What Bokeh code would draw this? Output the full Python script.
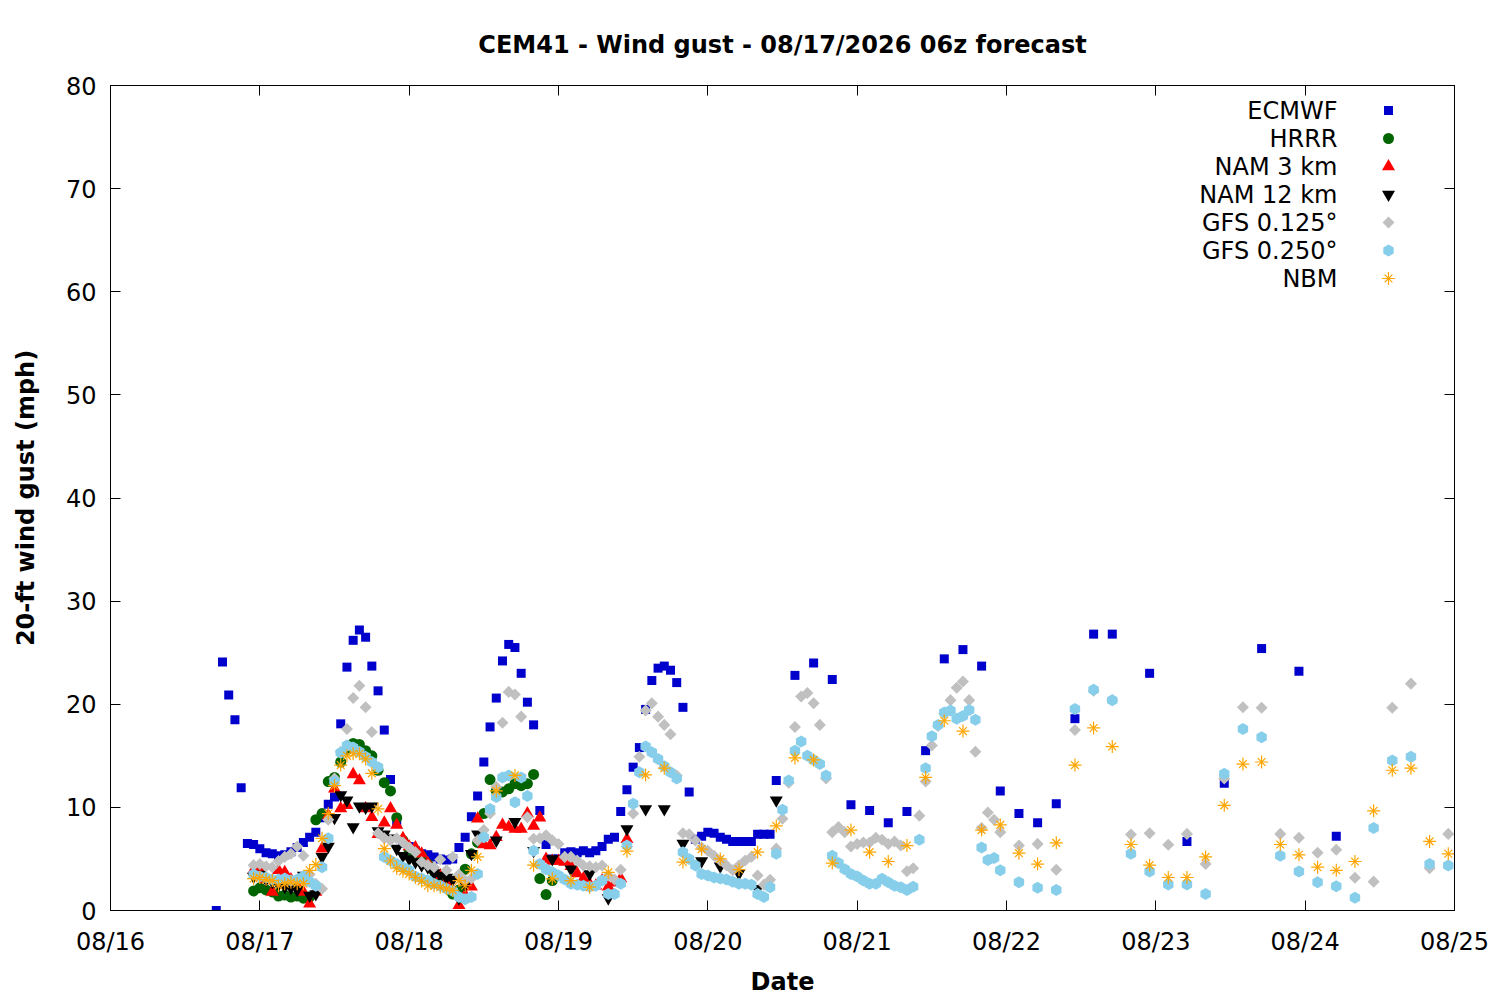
from datetime import datetime, timedelta
import numpy as np
from bokeh.plotting import figure
from bokeh.models import (Range1d, LinearAxis, DatetimeAxis, FixedTicker,
                          DatetimeTickFormatter, CustomJSTickFormatter, Label,
                          ColumnDataSource)
from bokeh.embed import file_html
from bokeh.resources import INLINE

# ---------------------------------------------------------------- data
BASE = datetime(2026, 8, 16)           # hours below are counted from 08/16 00:00 (local)
date_labels = ["08/16", "08/17", "08/18", "08/19", "08/20", "08/21", "08/22", "08/23", "08/24", "08/25"]
y_ticks = [0, 10, 20, 30, 40, 50, 60, 70, 80]

# forecast step schedules (hours after 08/16 00:00)
ecmwf_hours = list(range(17, 108)) + list(range(110, 162, 3)) + list(range(167, 198, 6))
hrrr_hours = list(range(23, 72))
nam3_hours = list(range(23, 84))
nam12_hours = list(range(23, 60)) + list(range(62, 108, 3))
gfs_hours = list(range(23, 144)) + list(range(146, 216, 3))
nbm_hours = list(range(23, 60)) + list(range(62, 216, 3))

ecmwf = [0.0, 24.1, 20.9, 18.5, 11.9, 6.5, 6.4, 6.0, 5.6, 5.5,
         5.3, 5.4, 5.7, 6.1, 6.6, 7.1, 7.6, 9.0, 10.3, 11.0,
         18.1, 23.6, 26.2, 27.2, 26.5, 23.7, 21.3, 17.5, 12.7, 8.5,
         6.5, 6.2, 5.8, 5.5, 5.4, 5.2, 5.0, 4.9, 5.0, 6.1,
         7.1, 9.1, 11.1, 14.4, 17.8, 20.6, 24.2, 25.8, 25.5, 23.0,
         20.2, 18.0, 9.7, 6.4, 5.0, 5.0, 5.6, 5.7, 5.6, 5.8,
         5.6, 5.8, 6.2, 6.9, 7.1, 9.6, 11.7, 13.9, 15.8, 19.5,
         22.3, 23.5, 23.7, 23.3, 22.1, 19.7, 11.5, 6.9, 7.2, 7.6,
         7.5, 7.1, 6.9, 6.7, 6.7, 6.7, 6.7, 7.4, 7.4, 7.4,
         12.6,
         22.8, 24.0, 22.4, 10.25, 9.7, 8.5, 9.6, 15.5, 24.4, 25.3,
         23.7, 11.6, 9.4, 8.5, 10.35, 18.6, 26.8, 26.8,
         23.0, 6.7, 12.35, 25.4, 23.2, 7.2]

hrrr = [1.9, 2.2, 2.0, 1.8, 1.4, 1.5, 1.3, 1.4, 1.2, 1.3,
        8.8, 9.4, 12.5, 12.9, 14.4, 15.6, 16.2, 16.1, 15.5, 15.0,
        13.6, 12.4, 11.6, 9.0, 6.8, 5.8, 5.4, 5.3, 4.5, 3.8,
        2.8, 2.2, 1.6, 2.0, 4.0, 5.5, 6.6, 9.4, 12.7, 11.6,
        11.5, 11.8, 12.3, 12.1, 12.3, 13.2, 3.1, 1.55, 2.9]

nam3 = [3.9, 3.9, 3.0, 1.8, 3.9, 3.7, 3.0, 2.4, 1.8, 0.65,
        1.8, 6.0, 9.2, 11.8, 9.9, 10.2, 13.2, 12.6, 9.9, 9.05,
        7.4, 8.5, 9.9, 8.3, 7.0, 6.2, 6.1, 5.5, 4.6, 4.0,
        3.4, 2.8, 2.0, 0.5, 1.5, 2.3, 8.9, 6.4, 6.3, 7.1,
        8.3, 8.1, 7.9, 7.9, 9.4, 8.2, 9.0, 5.0, 4.8, 4.8,
        4.7, 4.3, 3.6, 3.1, 2.6, 2.4, 2.9, 2.3, 2.7, 3.1,
        6.9]

nam12 = [3.3, 3.5, 3.0, 2.8, 2.5, 2.3, 2.2, 2.0, 3.4, 1.45,
         1.6, 5.2, 6.2, 9.0, 11.2, 10.7, 8.1, 10.1, 10.0, 10.1,
         7.7, 7.4, 7.0, 6.0, 5.3, 5.0, 4.7, 4.4, 4.2, 3.6,
         3.4, 3.2, 3.0, 1.2, 2.5, 5.5, 7.4,
         6.8, 8.6, 5.8, 5.0, 4.0, 3.55, 1.2, 7.9, 9.85, 9.85,
         6.5, 4.8, 4.3, 3.6, 2.1, 10.7]

gfs125 = [4.4, 4.5, 4.3, 4.2, 4.8, 5.2, 5.5, 6.2, 5.3, 3.5,
          2.6, 2.1, 8.8, 12.8, 15.4, 17.6, 20.6, 21.8, 19.7, 17.3,
          7.5, 7.0, 6.8, 7.0, 6.6, 6.1, 5.65, 4.7, 4.4, 4.2,
          4.95, 3.9, 5.2, 3.5, 2.9, 3.1, 6.8, 7.8, 9.4, 12.0,
          18.2, 21.2, 20.95, 18.8, 9.05, 6.95, 7.0, 7.3, 6.8, 6.45,
          5.2, 5.2, 4.85, 4.36, 4.3, 4.2, 4.36, 3.4, 3.0, 3.95,
          6.2, 9.4, 14.9, 19.4, 20.1, 18.8, 18.0, 17.1, 13.1, 7.5,
          7.4, 6.8, 6.1, 5.8, 5.3, 4.85, 4.36, 3.9, 4.36, 4.85,
          5.2, 3.4, 2.5, 2.97, 6.0, 8.9, 12.4, 17.8, 20.75, 21.1,
          20.1, 18.0, 12.8, 7.6, 8.1, 7.6, 6.2, 6.45, 6.6, 6.6,
          7.05, 6.85, 6.45, 6.7, 6.3, 3.8, 4.1, 9.2, 12.5, 16.0,
          17.9, 19.1, 20.4, 21.6, 22.2, 20.4, 15.4, 8.0, 9.5, 8.8,
          7.6,
          6.3, 6.46, 3.95, 17.5, 21.3, 20.4, 7.37, 7.5, 6.37, 7.43,
          4.5, 12.8, 19.7, 19.65, 7.43, 7.05, 5.6, 5.88, 3.17, 2.8,
          19.65, 22.0, 4.1, 7.43]

gfs250 = [3.5, 3.3, 3.2, 3.0, 3.0, 3.1, 2.9, 3.0, 3.3, 2.8,
          2.4, 4.2, 7.0, 12.5, 15.3, 16.0, 15.8, 15.4, 14.9, 14.4,
          13.9, 5.2, 4.85, 4.5, 4.2, 3.9, 3.3, 3.1, 2.9, 2.6,
          2.4, 2.1, 1.9, 1.3, 1.1, 1.3, 3.55, 7.1, 9.85, 11.0,
          12.9, 13.1, 10.5, 12.9, 11.1, 5.8, 4.5, 4.0, 3.7, 3.4,
          3.0, 2.6, 2.5, 2.4, 2.3, 2.4, 2.9, 1.6, 1.6, 2.6,
          6.3, 10.35, 13.4, 15.9, 15.35, 14.7, 14.0, 13.4, 12.8, 5.65,
          5.0, 4.36, 3.55, 3.4, 3.2, 3.1, 3.0, 2.8, 2.6, 2.6,
          2.5, 1.6, 1.3, 2.25, 5.5, 9.76, 12.6, 15.5, 16.4, 15.0,
          14.6, 14.2, 13.1, 5.3, 4.6, 4.0, 3.55, 3.3, 2.9, 2.6,
          2.6, 3.07, 2.75, 2.4, 2.26, 2.0, 2.3, 6.85, 13.8, 16.9,
          18.0, 19.2, 19.4, 18.6, 18.85, 19.45, 18.5, 6.1, 4.9, 5.1,
          3.9,
          2.75, 2.2, 2.0, 19.55, 21.4, 20.4, 5.5, 3.78, 2.52, 2.52,
          1.6, 13.25, 17.6, 16.8, 5.3, 3.78, 2.75, 2.36, 1.23, 8.0,
          14.55, 14.9, 4.5, 4.36]

nbm = [3.1, 3.2, 3.0, 2.9, 2.4, 2.6, 2.75, 2.6, 2.6, 3.9,
       4.45, 7.0, 9.4, 12.1, 14.1, 15.0, 15.2, 15.2, 14.7, 13.3,
       9.85, 6.0, 4.8, 4.1, 3.8, 3.55, 3.2, 2.85, 2.4, 2.4,
       2.25, 2.1, 1.95, 2.9, 2.4, 3.9, 5.2,
       11.6, 13.1, 4.4, 3.07, 2.9, 2.26, 3.7, 5.75, 13.15, 13.8,
       4.7, 5.95, 5.0, 3.97, 5.66, 8.2, 14.8, 14.6, 4.6, 7.8,
       5.66, 4.75, 6.3, 12.9, 18.4, 17.4, 7.8, 8.3, 5.56, 4.5,
       6.56, 14.1, 17.7, 15.9, 6.4, 4.4, 3.2, 3.2, 5.2, 10.2,
       14.2, 14.4, 6.4, 5.4, 4.2, 3.9, 4.75, 9.67, 13.6, 13.8,
       6.7, 5.5]

series_names = ["ECMWF", "HRRR", "NAM 3 km", "NAM 12 km", "GFS 0.125°", "GFS 0.250°", "NBM"]

# ---------------------------------------------------------------- helpers
def times(hours):
    return [BASE + timedelta(hours=h) for h in hours]

EPOCH = datetime(1970, 1, 1)
tick_ms = [(BASE + timedelta(days=i) - EPOCH).total_seconds() * 1000.0 for i in range(len(date_labels))]

FONT = "DejaVu Sans"
FS = "24px"

# ---------------------------------------------------------------- figure
W, H = 1500, 1000
p = figure(width=W, height=H, x_axis_type="datetime",
           x_range=Range1d(BASE, BASE + timedelta(days=len(date_labels) - 1)),
           y_range=Range1d(y_ticks[0], y_ticks[-1]),
           output_backend="svg", toolbar_location=None,
           min_border_left=110, min_border_right=46,
           min_border_top=85, min_border_bottom=90)
p.background_fill_color = "white"
p.border_fill_color = "white"
p.outline_line_color = "black"
p.outline_line_width = 1
p.grid.visible = False

p.title.text = "CEM41 - Wind gust - 08/17/2026 06z forecast"
p.title.align = "center"
p.title.text_font = FONT
p.title.text_font_size = FS
p.title.text_font_style = "bold"
p.title.text_color = "black"
p.title.standoff = 53

fmt = DatetimeTickFormatter(days="%m/%d", months="%m/%d", hours="%m/%d",
                            hourmin="%m/%d", minutes="%m/%d", years="%m/%d")

def style_axis(ax):
    ax.major_tick_in = 10
    ax.major_tick_out = 0
    ax.minor_tick_line_color = None
    ax.axis_line_color = "black"
    ax.major_tick_line_color = "black"
    ax.major_label_text_font = FONT
    ax.major_label_text_font_size = FS
    ax.major_label_text_color = "black"
    ax.axis_label_text_font = FONT
    ax.axis_label_text_font_size = FS
    ax.axis_label_text_font_style = "bold"
    ax.axis_label_text_color = "black"

xa = p.xaxis[0]
xa.ticker = FixedTicker(ticks=tick_ms)
xa.formatter = fmt
style_axis(xa)
xa.axis_label = "Date"
xa.major_label_standoff = 17
xa.axis_label_standoff = 9

ya = p.yaxis[0]
ya.ticker = FixedTicker(ticks=y_ticks)
style_axis(ya)
ya.axis_label = "20-ft wind gust (mph)"
ya.major_label_standoff = 14
ya.axis_label_standoff = 23

blank = CustomJSTickFormatter(code="return ''")
top = DatetimeAxis(ticker=FixedTicker(ticks=tick_ms), formatter=blank)
style_axis(top)
top.major_label_text_font_size = "1px"
top.major_label_standoff = 0
p.add_layout(top, "above")

right = LinearAxis(ticker=FixedTicker(ticks=y_ticks), formatter=blank)
style_axis(right)
right.major_label_text_font_size = "1px"
right.major_label_standoff = 0
p.add_layout(right, "right")

# ---------------------------------------------------------------- series
def src(hours, vals):
    return ColumnDataSource(dict(x=times(hours), y=vals))

p.scatter("x", "y", source=src(ecmwf_hours, ecmwf), marker="square", size=9,
          fill_color="#0000cc", line_color=None)
p.scatter("x", "y", source=src(hrrr_hours, hrrr), marker="circle", size=11,
          fill_color="#006400", line_color=None)
p.scatter("x", "y", source=src(nam3_hours, nam3), marker="triangle", size=13,
          fill_color="#ff0000", line_color=None)
p.scatter("x", "y", source=src(nam12_hours, nam12), marker="inverted_triangle", size=13,
          fill_color="#000000", line_color=None)
p.scatter("x", "y", source=src(gfs_hours, gfs125), marker="square", size=8.5, angle=np.pi / 4,
          fill_color="#c0c0c0", line_color=None)
p.scatter("x", "y", source=src(gfs_hours, gfs250), marker="hex", size=12, angle=np.pi / 2,
          fill_color="#87ceeb", line_color=None)
nbm_src = src(nbm_hours, nbm)
p.scatter("x", "y", source=nbm_src, marker="cross", size=13, line_color="#ffa500", line_width=1.2)
p.scatter("x", "y", source=nbm_src, marker="x", size=11, line_color="#ffa500", line_width=1.2)

# ---------------------------------------------------------------- legend (gnuplot style: text, then sample)
FW, FH = 1344, 825
p.extra_x_ranges = {"px": Range1d(0, FW)}
p.extra_y_ranges = {"px": Range1d(0, FH)}
LEG_TEXT_X = 1227
LEG_KEY_X = 1278
LEG_TOP = 800
LEG_STEP = 28
rows = [LEG_TOP - i * LEG_STEP for i in range(len(series_names))]
for name, yy in zip(series_names, rows):
    p.add_layout(Label(x=LEG_TEXT_X, y=yy, x_range_name="px", y_range_name="px",
                       text=name, text_align="right", text_baseline="middle",
                       text_font=FONT, text_font_size=FS, text_color="black"))

key_styles = [
    dict(marker="square", size=9, fill_color="#0000cc", line_color=None),
    dict(marker="circle", size=11, fill_color="#006400", line_color=None),
    dict(marker="triangle", size=13, fill_color="#ff0000", line_color=None),
    dict(marker="inverted_triangle", size=13, fill_color="#000000", line_color=None),
    dict(marker="square", size=8.5, angle=np.pi / 4, fill_color="#c0c0c0", line_color=None),
    dict(marker="hex", size=12, angle=np.pi / 2, fill_color="#87ceeb", line_color=None),
    dict(marker="cross", size=13, line_color="#ffa500", line_width=1.2),
]
for st, yy in zip(key_styles, rows):
    p.scatter(x=[LEG_KEY_X], y=[yy], x_range_name="px", y_range_name="px", **st)
p.scatter(x=[LEG_KEY_X], y=[rows[-1]], x_range_name="px", y_range_name="px",
          marker="x", size=11, line_color="#ffa500", line_width=1.2)

open("out.html", "w").write(file_html(p, INLINE))
